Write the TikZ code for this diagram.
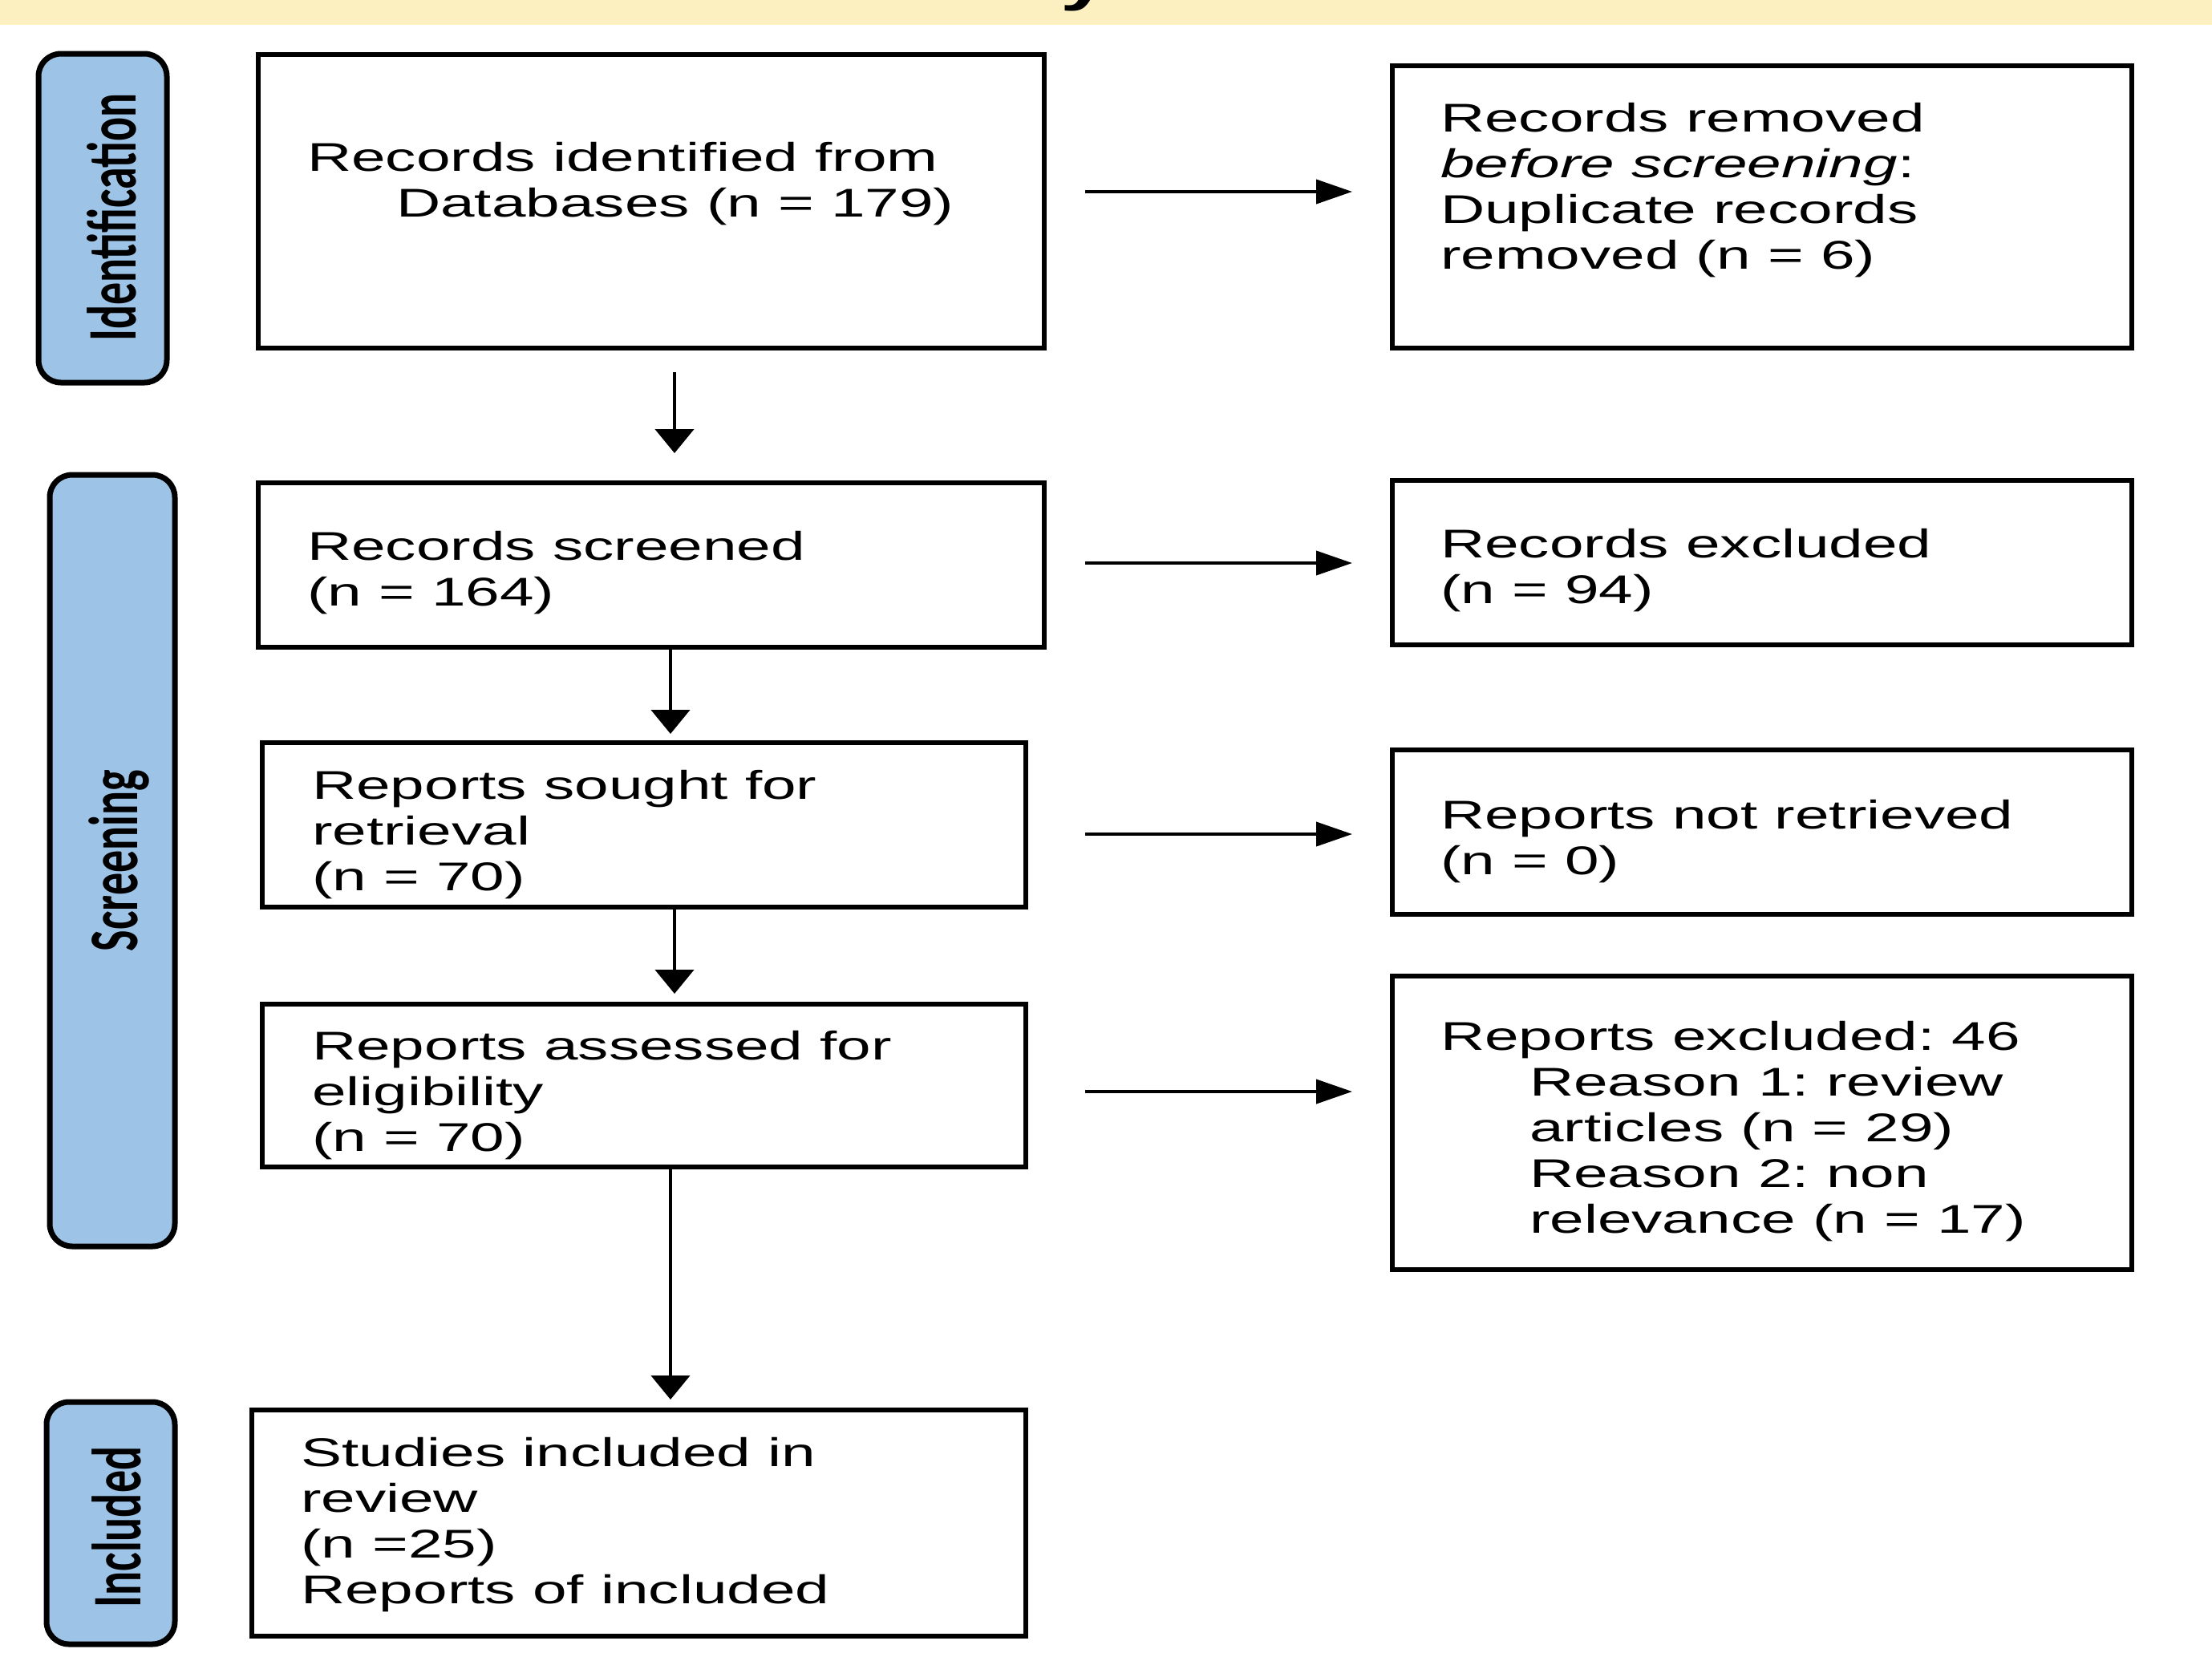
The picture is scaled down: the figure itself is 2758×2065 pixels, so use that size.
\documentclass[tikz,border=0pt]{standalone}
\usepackage{fontspec}
\usepackage{graphicx}
\usetikzlibrary{arrows.meta,calc}
\newfontfamily\bodyfont[FakeStretch=1.53]{Liberation Sans}
\newfontfamily\labelfont{Carlito}
\definecolor{bannerc}{HTML}{FDF0C0}
\definecolor{sideblue}{HTML}{9DC3E6}
\newcommand\boxlines[1]{\begin{tabular}[t]{@{}l@{}}#1\end{tabular}}
\frenchspacing
\begin{document}
\begin{tikzpicture}[x=1pt,y=-1pt,
  box/.style={draw, line width=6pt, inner sep=0pt, rectangle},
  side/.style={draw, line width=7pt, fill=sideblue, rounded corners=28pt, inner sep=0pt, rectangle},
  txt/.style={anchor=base west, inner sep=0pt, font=\bodyfont\frenchspacing\fontsize{50pt}{57pt}\selectfont},
  lbl/.style={rotate=90, inner sep=0pt, font=\labelfont\bfseries\fontsize{56pt}{60pt}\selectfont},
  varr/.style={line width=4.5pt, -{Triangle[length=30pt,width=48pt]}},
  harr/.style={line width=4pt, -{Triangle[length=45pt,width=30pt]}},
]
\useasboundingbox (0,0) rectangle (2758,2065);
\fill[white] (0,0) rectangle (2758,2065);
\fill[bannerc] (0,0) rectangle (2758,31);
\node[anchor=base west, inner sep=0pt, font=\bodyfont\bfseries\fontsize{70pt}{80pt}\selectfont] (title) at (1322,-1) {y};

% phase labels
\node[side, minimum width=160pt, minimum height=410pt] (ident) at (128,272) {};
\node[side, minimum width=156pt, minimum height=962pt] (screen) at (140,1073) {};
\node[side, minimum width=160pt, minimum height=302pt] (incl) at (138,1899) {};
\node[lbl] (identlbl) at (139,271) {\scalebox{1}[1.55]{Identification}};
\node[lbl] (screenlbl) at (148,1073) {\scalebox{1}[1.55]{Screening}};
\node[lbl] (incllbl) at (145,1904) {\scalebox{1}[1.55]{Included}};

% boxes
\node[box, minimum width=980pt, minimum height=366pt] (b1) at (812,251) {};
\node[box, minimum width=922pt, minimum height=352pt] (b2) at (2197,258) {};
\node[box, minimum width=980pt, minimum height=205pt] (b3) at (812,704.5) {};
\node[box, minimum width=922pt, minimum height=205pt] (b4) at (2197,701.5) {};
\node[box, minimum width=952pt, minimum height=205pt] (b5) at (803,1028.5) {};
\node[box, minimum width=922pt, minimum height=205pt] (b6) at (2197,1037.5) {};
\node[box, minimum width=952pt, minimum height=203pt] (b7) at (803,1353.5) {};
\node[box, minimum width=922pt, minimum height=366pt] (b8) at (2197,1400) {};
\node[box, minimum width=965pt, minimum height=282pt] (b9) at (796.5,1899) {};

% texts
\node[txt] (t1) at (383,213) {\boxlines{Records identified from\\\hspace*{111pt}Databases (n = 179)}};
\node[txt] (t2) at (1796,164) {\boxlines{Records removed\\\textit{before screening}:\\Duplicate records\\removed (n = 6)}};
\node[txt] (t3) at (383,698) {\boxlines{Records screened\\(n = 164)}};
\node[txt] (t4) at (1796,695) {\boxlines{Records excluded\\(n = 94)}};
\node[txt] (t5) at (389,996) {\boxlines{Reports sought for\\retrieval\\(n = 70)}};
\node[txt] (t6) at (1796,1033) {\boxlines{Reports not retrieved\\(n = 0)}};
\node[txt] (t7) at (389,1321) {\boxlines{Reports assessed for\\eligibility\\(n = 70)}};
\node[txt] (t8) at (1796,1309) {\boxlines{Reports excluded: 46\\\hspace*{111pt}Reason 1: review\\\hspace*{111pt}articles (n = 29)\\\hspace*{111pt}Reason 2: non\\\hspace*{111pt}relevance (n = 17)}};
\node[txt] (t9) at (375,1828) {\boxlines{Studies included in\\review\\(n =25)\\Reports of included}};

% horizontal arrows
\draw[harr] ($(b1.east |- 0,239)+(48,0)$) -- ($(b2.west |- 0,239)+(-47,0)$);
\draw[harr] ($(b3.east |- 0,702)+(48,0)$) -- ($(b4.west |- 0,702)+(-47,0)$);
\draw[harr] ($(b3.east |- 0,1040)+(48,0)$) -- ($(b6.west |- 0,1040)+(-47,0)$);
\draw[harr] ($(b3.east |- 0,1361)+(48,0)$) -- ($(b8.west |- 0,1361)+(-47,0)$);

% vertical arrows
\draw[varr] ($(b1.south -| 841,0)+(0,27)$) -- ($(b3.north -| 841,0)+(0,-34)$);
\draw[varr] (b3.south -| 836,0) -- ($(b5.north -| 836,0)+(0,-8)$);
\draw[varr] (b5.south -| 841,0) -- ($(b7.north -| 841,0)+(0,-10)$);
\draw[varr] (b7.south -| 836,0) -- ($(b9.north -| 836,0)+(0,-10)$);
\end{tikzpicture}
\end{document}
